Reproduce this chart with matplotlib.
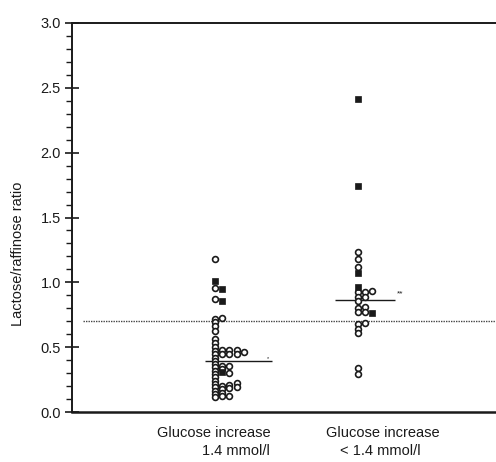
import numpy as np
import matplotlib
matplotlib.use('Agg')
import matplotlib.pyplot as plt
from matplotlib.ticker import MultipleLocator

plt.rcParams['font.family'] = ['Liberation Sans', 'DejaVu Sans']

# group 1: glucose increase >= 1.4 mmol/l
g1_circle_cols = [
    [1.18, 0.96, 0.87, 0.715, 0.694, 0.663, 0.627, 0.56, 0.53, 0.50, 0.47, 0.445,
     0.42, 0.393, 0.368, 0.345, 0.319, 0.293, 0.267, 0.241, 0.216, 0.19, 0.164,
     0.139, 0.113],
    [0.727, 0.478, 0.445, 0.355, 0.33, 0.20, 0.175, 0.15, 0.12],
    [0.478, 0.445, 0.355, 0.30, 0.21, 0.185, 0.12],
    [0.478, 0.445, 0.22, 0.195],
    [0.46],
]
g1_square_cols = [[1.012], [0.948, 0.856, 0.31], [], [], []]
g1_mean = 0.39

# group 2: glucose increase < 1.4 mmol/l
g2_circle_cols = [
    [1.231, 1.177, 1.12, 0.923, 0.889, 0.858, 0.80, 0.774, 0.676, 0.64, 0.607,
     0.34, 0.29],
    [0.923, 0.889, 0.812, 0.769, 0.69],
    [0.933],
]
g2_square_cols = [[2.413, 1.742, 1.069, 0.961], [], [0.763]]
g2_mean = 0.865

cutoff = 0.70
top_labels = ['Glucose increase', 'Glucose increase']
bottom_labels = ['1.4 mmol/l', '< 1.4 mmol/l']

fig = plt.figure(figsize=(4.96, 4.62), dpi=100)
ax = fig.add_axes([72 / 496, 50 / 462, 1 - 72 / 496, 389 / 462])

step = 0.051
ink = '#1a1a1a'
for gx, ccols, scols in [(1, g1_circle_cols, g1_square_cols),
                         (2, g2_circle_cols, g2_square_cols)]:
    for i, vals in enumerate(ccols):
        ax.plot([gx + i * step] * len(vals), vals, 'o', ms=4.2, mfc='white',
                mec=ink, mew=1.2, zorder=3)
    for i, vals in enumerate(scols):
        ax.plot([gx + i * step] * len(vals), vals, 's', ms=4.4, mfc=ink,
                mec=ink, mew=0.5, zorder=4)

ax.hlines(g1_mean, 0.93, 1.40, color=ink, lw=1.0, zorder=2)
ax.hlines(g2_mean, 1.84, 2.26, color=ink, lw=1.0, zorder=2)
ax.hlines(cutoff, 0.08, 2.97, color='#444444', lw=1.0, ls=(0, (1, 0.8)), zorder=1)
ax.text(1.37, g1_mean + 0.005, '*', fontsize=4, color=ink, ha='center', va='bottom')
ax.text(2.30, 0.91, '**', fontsize=6, color=ink, ha='center', va='center')

ax.set_xlim(0, 2.97)
ax.set_ylim(0, 3.0)
ax.yaxis.set_major_locator(MultipleLocator(0.5))
ax.yaxis.set_minor_locator(MultipleLocator(0.1))
ax.yaxis.set_major_formatter(matplotlib.ticker.FormatStrFormatter('%.1f'))
ax.tick_params(axis='y', which='major', direction='inout', length=10, width=1.2,
               labelsize=10.5, pad=3, colors=ink)
ax.tick_params(axis='y', which='minor', direction='out', length=4, width=1.0,
               colors=ink)
ax.set_xticks([])

ax.spines['right'].set_visible(False)
ax.spines['left'].set_linewidth(1.4)
ax.spines['top'].set_linewidth(1.4)
ax.spines['bottom'].set_linewidth(1.8)
for s in ax.spines.values():
    s.set_color(ink)

ax.set_ylabel('Lactose/raffinose ratio', fontsize=10.5, color=ink)
ax.yaxis.set_label_coords(-0.11, 0.406)

xt = ax.get_xaxis_transform()
for x, lab in zip([0.99, 2.18], top_labels):
    ax.text(x, -0.055, lab, transform=xt, ha='center', va='center', fontsize=10.5,
            color=ink)
for x, lab in zip([1.15, 2.16], bottom_labels):
    ax.text(x, -0.10, lab, transform=xt, ha='center', va='center', fontsize=10.5,
            color=ink)

fig.savefig('out.png', dpi=100)
